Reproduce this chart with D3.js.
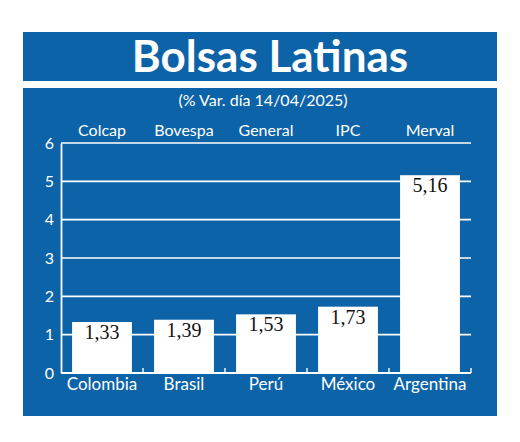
<!DOCTYPE html>
<html>
<head>
<meta charset="utf-8">
<script src="https://cdn.jsdelivr.net/npm/d3@7"></script>
<style>
  html, body { margin: 0; padding: 0; background: #fff; }
</style>
</head>
<body>
<svg id="chart"></svg>
<script>
// data
const countries = ["Colombia", "Brasil", "Perú", "México", "Argentina"]
const indices = ["Colcap", "Bovespa", "General", "IPC", "Merval"]
const changes = [1.33, 1.39, 1.53, 1.73, 5.16]
const yTicks = [0, 1, 2, 3, 4, 5, 6]

const config = {
    width: 520,
    height: 442,
    blue: "#0c63a8",
    font: "Lato, 'Open Sans', sans-serif",
    plot: { left: 61, right: 471, top: 143, bottom: 373 }
}

const svg = d3.select("svg#chart")
    .attr("width", config.width)
    .attr("height", config.height)
    .style("display", "block")

// title band
svg.append("rect")
    .attr("x", 23).attr("y", 32)
    .attr("width", 474).attr("height", 49)
    .style("fill", config.blue)

svg.append("text")
    .text("Bolsas Latinas")
    .attr("x", 270).attr("y", 72)
    .attr("text-anchor", "middle")
    .style("fill", "#fff")
    .style("font-family", config.font)
    .style("font-weight", "bold")
    .style("font-size", "44px")

// main panel
svg.append("rect")
    .attr("x", 23).attr("y", 88)
    .attr("width", 474).attr("height", 328)
    .style("fill", config.blue)

svg.append("text")
    .text("(% Var. día 14/04/2025)")
    .attr("x", 263).attr("y", 106)
    .attr("text-anchor", "middle")
    .style("fill", "#fff")
    .style("font-family", config.font)
    .style("font-size", "16px")

const p = config.plot
const x = d3.scaleBand().domain(countries).range([p.left, p.right]).paddingInner(0.27).paddingOuter(0.135)
const xb = d3.scaleBand().domain(countries).range([p.left, p.right])
const y = d3.scaleLinear().domain([0, 6]).range([p.bottom, p.top])

// grid lines
svg.append("g")
    .selectAll("line")
    .data(yTicks.slice(1))
    .join("line")
    .attr("x1", p.left).attr("x2", p.right)
    .attr("y1", d => y(d)).attr("y2", d => y(d))
    .style("stroke", "#fff")
    .style("stroke-width", 1.6)

// y axis
const yAxis = svg.append("g")
    .attr("transform", `translate(${p.left},0)`)
    .call(d3.axisLeft(y).tickValues(yTicks).tickSize(0).tickPadding(7).tickFormat(d3.format("d")))
yAxis.select(".domain").style("stroke", "#fff").style("stroke-width", 1.8)
yAxis.selectAll("text")
    .style("fill", "#fff")
    .style("font-family", config.font)
    .style("font-size", "16px")

// bars
svg.append("g")
    .selectAll("rect")
    .data(changes)
    .join("rect")
    .attr("x", (d, i) => x(countries[i]))
    .attr("width", x.bandwidth())
    .attr("y", d => y(d))
    .attr("height", d => y(0) - y(d))
    .style("fill", "#fff")

// value labels
svg.append("g")
    .selectAll("text")
    .data(changes)
    .join("text")
    .text(d => d3.format(".2f")(d).replace(".", ","))
    .attr("x", (d, i) => x(countries[i]) + x.bandwidth() / 2)
    .attr("y", d => y(d) + 17)
    .attr("text-anchor", "middle")
    .style("fill", "#111")
    .style("font-family", "'Liberation Serif', 'DejaVu Serif', serif")
    .style("font-size", "20px")

// bottom axis with small upward ticks at band edges
svg.append("line")
    .attr("x1", p.left).attr("x2", p.right)
    .attr("y1", p.bottom).attr("y2", p.bottom)
    .style("stroke", "#fff")
    .style("stroke-width", 1.8)

svg.append("g")
    .selectAll("line")
    .data(countries)
    .join("line")
    .attr("x1", d => xb(d) + xb.bandwidth()).attr("x2", d => xb(d) + xb.bandwidth())
    .attr("y1", p.bottom).attr("y2", p.bottom - 5)
    .style("stroke", "#fff")
    .style("stroke-width", 1.4)

// country labels
svg.append("g")
    .selectAll("text")
    .data(countries)
    .join("text")
    .text(d => d)
    .attr("x", d => x(d) + x.bandwidth() / 2)
    .attr("y", 390)
    .attr("text-anchor", "middle")
    .style("fill", "#fff")
    .style("font-family", config.font)
    .style("font-size", "17px")

// index labels
svg.append("g")
    .selectAll("text")
    .data(indices)
    .join("text")
    .text(d => d)
    .attr("x", (d, i) => x(countries[i]) + x.bandwidth() / 2)
    .attr("y", 136)
    .attr("text-anchor", "middle")
    .style("fill", "#fff")
    .style("font-family", config.font)
    .style("font-size", "16px")
</script>
</body>
</html>
